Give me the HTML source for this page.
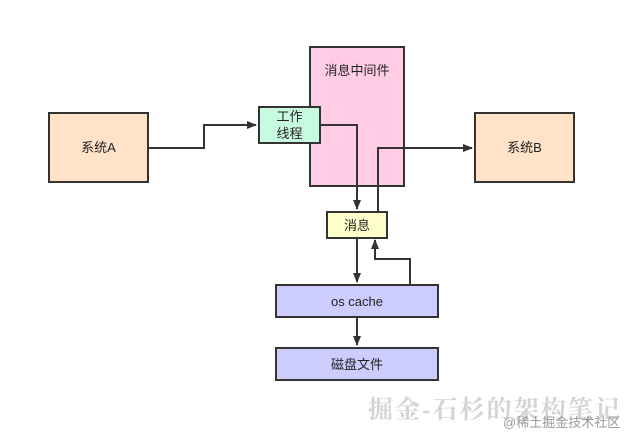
<!DOCTYPE html>
<html><head><meta charset="utf-8"><style>
body{margin:0;background:#fff;width:636px;height:443px;overflow:hidden;position:relative;font-family:"Liberation Sans","Noto Sans CJK SC",sans-serif;}
.b{position:absolute;box-sizing:border-box;border:2px solid #333;display:flex;align-items:center;justify-content:center;font-size:13px;color:#222;text-align:center;line-height:17px}
</style></head><body>
<div class="b" style="left:48px;top:112px;width:101px;height:71px;background:#ffe2c8">系统A</div>
<div class="b" style="left:309px;top:46px;width:96px;height:141px;background:#ffcce6;align-items:flex-start;padding-top:14px">消息中间件</div>
<div class="b" style="left:474px;top:112px;width:101px;height:71px;background:#ffe2c8">系统B</div>
<div class="b" style="left:258px;top:106px;width:63px;height:38px;background:#c8fae0">工作<br>线程</div>
<div class="b" style="left:326px;top:211px;width:62px;height:28px;background:#ffffcc">消息</div>
<div class="b" style="left:275px;top:284px;width:164px;height:34px;background:#ccccff">os cache</div>
<div class="b" style="left:275px;top:347px;width:164px;height:34px;background:#ccccff">磁盘文件</div>
<svg style="position:absolute;left:0;top:0" width="636" height="443">
<defs><marker id="a" markerWidth="10" markerHeight="8" refX="9" refY="4" orient="auto" markerUnits="userSpaceOnUse"><path d="M0,0L10,4L0,8z" fill="#333"/></marker></defs>
<g fill="none" stroke="#333" stroke-width="2">
<path d="M149,148H204V125H256" marker-end="url(#a)"/>
<path d="M321,125H357V209" marker-end="url(#a)"/>
<path d="M378,211V148H472" marker-end="url(#a)"/>
<path d="M357,239V282" marker-end="url(#a)"/>
<path d="M410,284V259H375V240" marker-end="url(#a)"/>
<path d="M357,318V345" marker-end="url(#a)"/>
</g>
<text x="368" y="418" font-family="Liberation Serif,Noto Serif CJK SC,serif" font-size="25" font-weight="bold" fill="#d4d4d4" textLength="252">掘金-石杉的架构笔记</text>
<text x="503" y="427" font-family="Liberation Sans,Noto Sans CJK SC,sans-serif" font-size="13" fill="#999">@稀土掘金技术社区</text>
</svg>
</body></html>
